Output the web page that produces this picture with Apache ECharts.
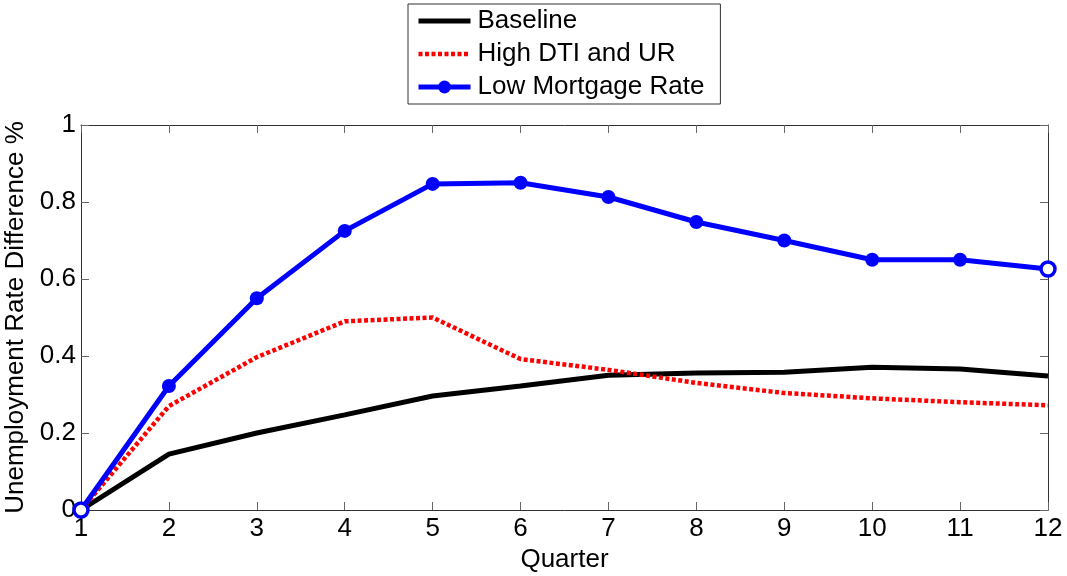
<!DOCTYPE html>
<html><head><meta charset="utf-8">
<script src="https://cdn.jsdelivr.net/npm/echarts@6/dist/echarts.min.js"></script>
<style>html,body{margin:0;padding:0;background:#fff}#c{width:1067px;height:576px}</style>
</head><body><div id="c"></div>
<script>
const quarters = [1,2,3,4,5,6,7,8,9,10,11,12];
const baseline = [0,0.145,0.2,0.247,0.296,0.322,0.35,0.356,0.358,0.371,0.366,0.348];
const highDTI = [0,0.27,0.397,0.49,0.50,0.392,0.364,0.33,0.304,0.29,0.28,0.272];
const lowMortgage = [0,0.322,0.55,0.725,0.847,0.85,0.813,0.748,0.70,0.65,0.65,0.626];
const yTicks = [0,0.2,0.4,0.6,0.8,1];
const names = ['Baseline','High DTI and UR','Low Mortgage Rate'];

const font = 'Liberation Sans, Arial, sans-serif';
const FS = 26;
const pair = arr => quarters.map((q,i)=>[q,arr[i]]);
const blueData = quarters.map((q,i)=>{
  const d = {value:[q,lowMortgage[i]]};
  if (i===0 || i===quarters.length-1) d.itemStyle = {color:'#fff', borderColor:'#0000ff', borderWidth:3.5};
  return d;
});
const chart = echarts.init(document.getElementById('c'));
const axisCommon = {
  axisLine:{show:true,onZero:false,lineStyle:{color:'#333',width:1}},
  axisTick:{show:true,inside:true,length:8,lineStyle:{color:'#666'}},
  splitLine:{show:false}
};
chart.setOption({
  animation:false,
  grid:{left:81,right:19,top:125,bottom:66,show:false,containLabel:false,outerBoundsMode:'none'},
  legend:{
    orient:'vertical', left:408, top:4,
    padding:[4,16,4,8], itemGap:7, itemWidth:52, itemHeight:16,
    borderColor:'#333', borderWidth:1, backgroundColor:'#fff',
    textStyle:{fontFamily:font,fontSize:FS,color:'#000',lineHeight:26,padding:[0,0,0,2]},
    data:[
      {name:names[0],itemStyle:{opacity:0},lineStyle:{width:5,color:'#000'}},
      {name:names[1],itemStyle:{opacity:0},lineStyle:{width:4.5,color:'#ff0000',type:[4,2.5]}},
      {name:names[2],lineStyle:{width:5,color:'#0000ff'}}
    ]
  },
  xAxis:[
    Object.assign({type:'value',min:1,max:12,interval:1,position:'bottom',
      name:'Quarter',nameLocation:'middle',nameGap:37,
      nameTextStyle:{fontFamily:font,fontSize:FS,color:'#000'},
      axisLabel:{fontFamily:font,fontSize:FS,color:'#000',margin:6}},axisCommon),
    Object.assign({type:'value',min:1,max:12,interval:1,position:'top',
      axisLabel:{show:false}},axisCommon)
  ],
  yAxis:[
    Object.assign({type:'value',min:0,max:1,interval:0.2,position:'left',
      name:'Unemployment Rate Difference %',nameLocation:'middle',nameGap:51,
      nameTextStyle:{fontFamily:font,fontSize:FS,color:'#000'},
      axisLabel:{fontFamily:font,fontSize:FS,color:'#000',margin:5,
        formatter:v=>{const t=yTicks.find(x=>Math.abs(x-v)<1e-9);return t===undefined?'':String(t);}}},axisCommon),
    Object.assign({type:'value',min:0,max:1,interval:0.2,position:'right',
      axisLabel:{show:false}},axisCommon)
  ],
  series:[
    {name:names[0],type:'line',data:pair(baseline),showSymbol:false,symbol:'none',
      lineStyle:{color:'#000',width:5},itemStyle:{color:'#000'},z:2},
    {name:names[1],type:'line',data:pair(highDTI),showSymbol:false,symbol:'none',
      lineStyle:{color:'#ff0000',width:4.5,type:[4,2.5],cap:'butt'},itemStyle:{color:'#ff0000'},z:3},
    {name:names[2],type:'line',data:blueData,symbol:'circle',symbolSize:14,
      lineStyle:{color:'#0000ff',width:5},itemStyle:{color:'#0000ff'},z:4}
  ]
});
</script></body></html>
